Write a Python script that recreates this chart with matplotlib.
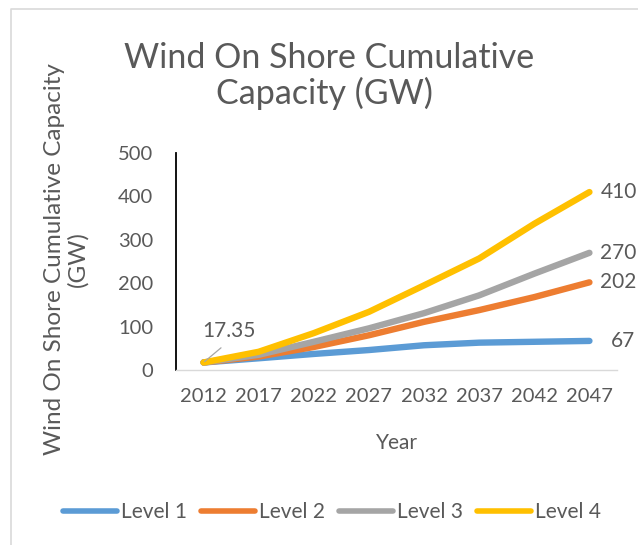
import matplotlib
matplotlib.use("Agg")
import matplotlib.pyplot as plt
from matplotlib.lines import Line2D

plt.rcParams['font.family'] = ['Lato', 'DejaVu Sans']

# Данні з графіка
years = ['2012', '2017', '2022', '2027', '2032', '2037', '2042', '2047']
level_1 = [17.35, 27, 37, 46, 57, 63, 65, 67]
level_2 = [17.35, 31, 53, 80, 111, 138, 168, 202]
level_3 = [17.35, 35, 65, 96, 131, 172, 222, 270]
level_4 = [17.35, 42, 85, 134, 195, 257, 337, 410]
series_names = ['Level 1', 'Level 2', 'Level 3', 'Level 4']
colors = ['#5B9BD5', '#ED7D31', '#A5A5A5', '#FFC000']

TEXT = '#595959'
W, H = 638, 545

fig = plt.figure(figsize=(W / 100, H / 100), dpi=100)
ax = fig.add_axes([176 / W, 1 - 370 / H, (617 - 176) / W, (370 - 153) / H])

x = list(range(len(years)))
for name, vals, c in zip(series_names, [level_1, level_2, level_3, level_4], colors):
    ax.plot(x, vals, color=c, lw=4.6, label=name,
            solid_capstyle='round', solid_joinstyle='round')

ax.set_xlim(-0.5, len(years) - 0.5)
ax.set_ylim(0, 500)
ax.set_xticks(x)
ax.set_xticklabels(years)
ax.set_yticks(range(0, 501, 100))
ax.tick_params(length=0, labelsize=14.5, labelcolor=TEXT)
ax.tick_params(axis='y', pad=16.5)
ax.tick_params(axis='x', pad=13)

for side in ['top', 'right']:
    ax.spines[side].set_visible(False)
ax.spines['left'].set_color('black')
ax.spines['left'].set_linewidth(1.3)
ax.spines['bottom'].set_color('#D9D9D9')
ax.spines['bottom'].set_linewidth(1)

# Підписи значень
ends = [level_1[-1], level_2[-1], level_3[-1], level_4[-1]]
offsets = [21, 11, 11, 11]
for v, dx in zip(ends, offsets):
    ax.annotate(f'{v:g}', xy=(x[-1], v), xytext=(dx, 0), textcoords='offset pixels',
                ha='left', va='center', fontsize=15, color=TEXT, annotation_clip=False)

ax.annotate(f'{level_1[0]:g}', xy=(x[0], level_1[0]), xytext=(25, 31),
            textcoords='offset pixels', ha='center', va='center',
            fontsize=15, color=TEXT,
            arrowprops=dict(arrowstyle='-', color='#A6A6A6', lw=0.9,
                            relpos=(0.5, 0), shrinkA=4, shrinkB=1))

# Підписи осей
ax.set_xlabel('Year', fontsize=15, color=TEXT)
ax.xaxis.set_label_coords(0.5, -(449 - 370) / 217)
ax.xaxis.label.set_va('baseline')

ax.set_ylabel('Wind On Shore Cumulative Capacity\n(GW)', fontsize=17.5, color=TEXT,
              linespacing=1.1)
ax.yaxis.set_label_coords((66 - 176) / 441, (370 - 259) / 217)
ax.yaxis.label.set_va('center')

# Заголовок
fig.text(329 / W, 1 - 68 / H, 'Wind On Shore Cumulative', ha='center', va='baseline',
         fontsize=24.5, color=TEXT)
fig.text(324 / W, 1 - 104 / H, 'Capacity (GW)', ha='center', va='baseline',
         fontsize=24.5, color=TEXT)

# Легенда
fig.legend(loc='center', bbox_to_anchor=(332 / W, 1 - 512 / H), ncol=4, frameon=False,
           fontsize=15, labelcolor=TEXT, handlelength=2.6, handletextpad=0.2,
           columnspacing=0.65, borderaxespad=0)
for h in fig.legends[0].legend_handles:
    h.set_linewidth(4)
    h.set_solid_capstyle('round')

# Рамка області діаграми
fig.add_artist(Line2D([10.5 / W, 10.5 / W, 1], [0, 1 - 8.5 / H, 1 - 8.5 / H],
                      transform=fig.transFigure, color='#D9D9D9', lw=1.2))

fig.savefig('out.png', dpi=100)
